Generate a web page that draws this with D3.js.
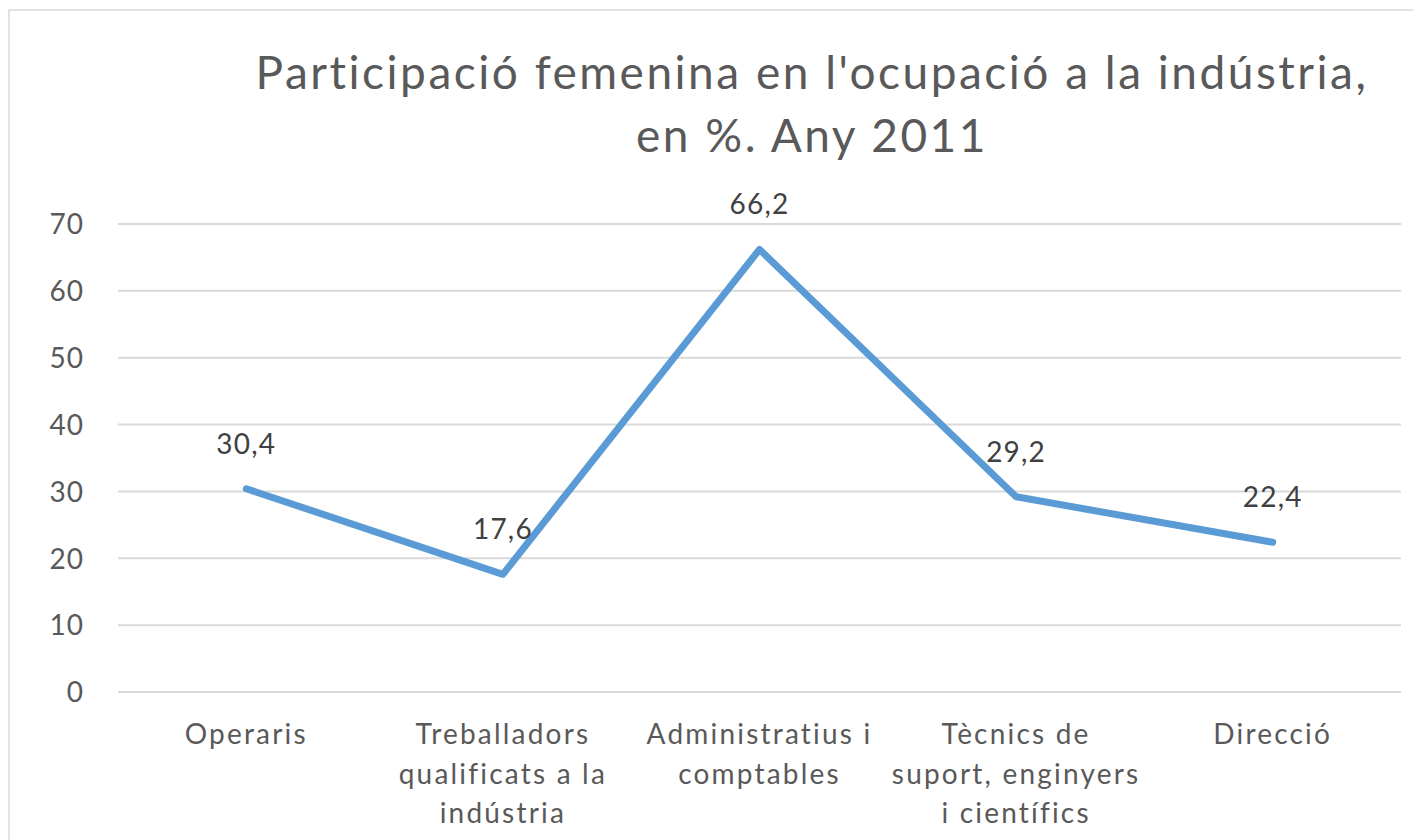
<!DOCTYPE html>
<html>
<head>
<meta charset="utf-8">
<script src="https://cdn.jsdelivr.net/npm/d3@7"></script>
<style>
  body { margin: 0; background: #fff; }
  svg { display: block; font-family: Lato, "Open Sans", sans-serif; }
</style>
</head>
<body>
<div id="chart"></div>
<script>
var categories = ["Operaris", "Treballadors qualificats a la indústria", "Administratius i comptables", "Tècnics de suport, enginyers i científics", "Direcció"];
var categoryLines = [["Operaris"], ["Treballadors", "qualificats a la", "indústria"], ["Administratius i", "comptables"], ["Tècnics de", "suport, enginyers", "i científics"], ["Direcció"]];
var values = [30.4, 17.6, 66.2, 29.2, 22.4];
var valueLabels = ["30,4", "17,6", "66,2", "29,2", "22,4"];
var yTicks = [0, 10, 20, 30, 40, 50, 60, 70];
var titleLines = ["Participació femenina en l'ocupació a la indústria,", "en %. Any 2011"];

var width = 1413, height = 840;
var svg = d3.select("#chart").append("svg").attr("width", width).attr("height", height);

// outer chart border (runs off right/bottom edge like the reference)
svg.append("rect")
    .attr("x", 9).attr("y", 10)
    .attr("width", 1430).attr("height", 860)
    .attr("fill", "none").attr("stroke", "#d9d9d9").attr("stroke-width", 1.5);

var x = d3.scaleBand().domain(categories).range([118, 1401]);
var y = d3.scaleLinear().domain([0, 70]).range([692, 224]);

// title
svg.append("text")
    .attr("text-anchor", "middle")
    .attr("fill", "#595959")
    .style("font-size", "46px")
    .style("letter-spacing", "2.5px")
    .selectAll("tspan")
    .data(titleLines)
    .enter()
    .append("tspan")
    .attr("x", 812)
    .attr("y", function(d, i) { return 89 + i * 63; })
    .text(function(d) { return d; });

// gridlines
svg.append("g")
    .selectAll("line")
    .data(yTicks)
    .enter()
    .append("line")
    .attr("x1", 118).attr("x2", 1401)
    .attr("y1", function(d) { return y(d); })
    .attr("y2", function(d) { return y(d); })
    .attr("stroke", "#d9d9d9").attr("stroke-width", 2);

// y axis labels
var yAxis = d3.axisLeft(y).tickValues(yTicks).tickSize(0).tickPadding(0);
var yg = svg.append("g").attr("transform", "translate(84,0)").call(yAxis);
yg.select(".domain").remove();
yg.selectAll("text")
    .attr("fill", "#595959")
    .attr("dy", "0.35em")
    .style("font-size", "28px")
    .style("letter-spacing", "1px")
    .style("font-family", "Lato, 'Open Sans', sans-serif");

// x category labels
var xg = svg.append("g");
xg.selectAll("text")
    .data(categories)
    .enter()
    .append("text")
    .attr("text-anchor", "middle")
    .attr("fill", "#595959")
    .style("font-size", "28px")
    .style("letter-spacing", "2.2px")
    .each(function(d, i) {
        var t = d3.select(this);
        categoryLines[i].forEach(function(line, j) {
            t.append("tspan")
                .attr("x", x(d) + x.bandwidth() / 2)
                .attr("y", 744 + j * 39.5)
                .text(line);
        });
    });

// line
var line = d3.line()
    .x(function(d, i) { return x(categories[i]) + x.bandwidth() / 2; })
    .y(function(d) { return y(d); });

svg.append("path")
    .datum(values)
    .attr("d", line)
    .attr("fill", "none")
    .attr("stroke", "#5b9bd5")
    .attr("stroke-width", 7)
    .attr("stroke-linejoin", "round")
    .attr("stroke-linecap", "round");

// data labels
svg.append("g")
    .selectAll("text")
    .data(values)
    .enter()
    .append("text")
    .attr("x", function(d, i) { return x(categories[i]) + x.bandwidth() / 2; })
    .attr("y", function(d) { return y(d) - 35; })
    .attr("text-anchor", "middle")
    .attr("fill", "#404040")
    .style("font-size", "28px")
    .style("letter-spacing", "1.2px")
    .text(function(d, i) { return valueLabels[i]; });
</script>
</body>
</html>
